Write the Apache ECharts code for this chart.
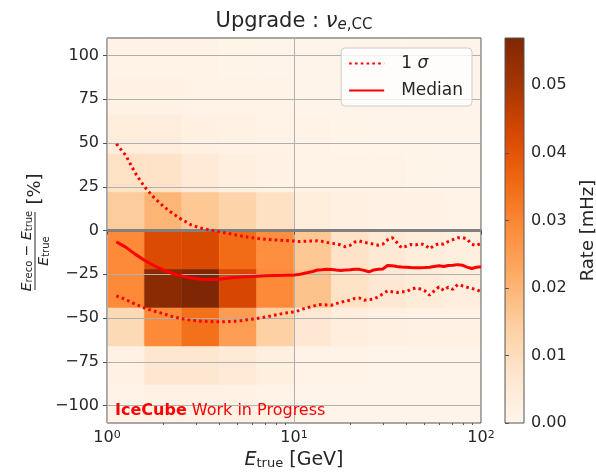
<!DOCTYPE html>
<html>
<head>
<meta charset="utf-8">
<script src="https://cdn.jsdelivr.net/npm/echarts@6/dist/echarts.min.js"></script>
<style>
  html, body { margin: 0; padding: 0; background: #ffffff; }
  #chart { width: 596px; height: 473px; }
</style>
</head>
<body>
<div id="chart"></div>
<script>
// histogram bin edges
const energyEdges = [1, 1.585, 2.512, 3.981, 6.310, 10, 15.85, 25.12, 39.81, 63.10, 100]
const resolutionEdges = [-110, -88, -66, -44, -22, 0, 22, 44, 66, 88, 110]

// rate [mHz] per cell, one row per resolution bin, bottom row first
const rates = [
  [0.0008, 0.0018, 0.0020, 0.0015, 0.0010, 0.0006, 0.0005, 0.0004, 0.0003, 0.0003],
  [0.0020, 0.0065, 0.0065, 0.0050, 0.0030, 0.0012, 0.0008, 0.0006, 0.0005, 0.0004],
  [0.0110, 0.0290, 0.0340, 0.0250, 0.0140, 0.0060, 0.0035, 0.0025, 0.0020, 0.0015],
  [0.0290, 0.0550, 0.0570, 0.0430, 0.0290, 0.0170, 0.0085, 0.0060, 0.0045, 0.0035],
  [0.0290, 0.0420, 0.0425, 0.0350, 0.0280, 0.0160, 0.0080, 0.0055, 0.0040, 0.0030],
  [0.0150, 0.0200, 0.0160, 0.0130, 0.0090, 0.0040, 0.0025, 0.0020, 0.0015, 0.0012],
  [0.0085, 0.0080, 0.0050, 0.0030, 0.0020, 0.0012, 0.0010, 0.0008, 0.0007, 0.0006],
  [0.0040, 0.0038, 0.0025, 0.0018, 0.0012, 0.0008, 0.0007, 0.0006, 0.0005, 0.0005],
  [0.0020, 0.0018, 0.0012, 0.0010, 0.0008, 0.0006, 0.0005, 0.0005, 0.0004, 0.0004],
  [0.0012, 0.0010, 0.0008, 0.0007, 0.0006, 0.0005, 0.0005, 0.0004, 0.0004, 0.0004]
]
const rateMax = 0.057

// resolution curves
const lineEnergies = [1.122, 1.259, 1.413, 1.585, 1.778, 1.995, 2.239, 2.512, 2.818, 3.162,
  3.548, 3.981, 4.467, 5.012, 5.623, 6.310, 7.079, 7.943, 8.913,
  10.0, 10.59, 11.22, 11.89, 12.59, 13.34, 14.13, 14.96, 15.85, 16.79, 17.78, 18.84, 19.95,
  21.13, 22.39, 23.71, 25.12, 26.61, 28.18, 29.85, 31.62, 33.50, 35.48, 37.58, 39.81,
  42.17, 44.67, 47.32, 50.12, 53.09, 56.23, 59.57, 63.10, 66.83, 70.79, 74.99, 79.43,
  84.14, 89.13, 94.41, 100.0]
const sigmaUpper = [49.5, 43, 33, 25, 19, 14, 9.8, 6.3, 3.2, 1.4, 0.3, -0.7, -1.7, -2.8, -3.7, -4.5, -5.0, -5.4, -5.7,
  -6.0, -6.3, -6.2, -6.0, -6.0, -5.9, -6.2, -6.8, -7.3, -7.6, -8.3, -9.3, -8.5, -6.6, -6.0, -6.8,
  -7.2, -7.8, -8.4, -7.8, -5.4, -4.1, -6.8, -9.9, -9.0, -8.0, -8.3, -7.5, -8.2, -10.4, -8.6, -7.4,
  -7.8, -6.3, -5.2, -4.2, -4.0, -4.8, -7.9, -8.6, -7.3]
const median = [-6.5, -9.5, -13.5, -17, -20, -22.5, -24.6, -26, -27.1, -27.8, -28, -27.8, -27.2, -26.7, -26.4, -26.1, -25.9, -25.7, -25.6,
  -25.4, -25.2, -24.6, -24.0, -23.4, -22.6, -22.4, -22.1, -22.3, -22.6, -22.8, -22.6, -22.4, -22.1, -22.2, -22.8,
  -23.6, -22.6, -22.2, -22.0, -20.0, -20.2, -20.6, -20.8, -21.0, -21.2, -21.3, -21.3, -21.2, -21.0, -20.6, -20.2,
  -20.6, -20.0, -19.9, -19.5, -19.8, -20.9, -21.7, -21.0, -20.7]
const sigmaLower = [-37.3, -39.5, -42.0, -44.3, -46.0, -47.5, -49.2, -50.4, -51.3, -51.8, -52.0, -52.2, -52.0, -51.8, -51.0, -50.3, -49.4, -48.3, -47.2,
  -46.5, -45.8, -44.8, -44.0, -43.3, -42.5, -42.3, -42.6, -42.7, -41.8, -41.0, -40.3, -39.8, -38.8, -38.6, -39.8,
  -39.5, -39.2, -37.9, -36.2, -34.5, -35.0, -35.4, -35.0, -35.0, -33.6, -32.8, -33.4, -34.5, -37.0, -34.5, -32.2,
  -34.2, -32.4, -33.6, -30.9, -31.6, -32.4, -33.1, -33.8, -35.0]

const yTicks = [-100, -75, -50, -25, 0, 25, 50, 75, 100]
const rateTicks = [0, 0.01, 0.02, 0.03, 0.04, 0.05]
const minorEnergyTicks = [2, 3, 4, 5, 6, 7, 8, 9, 20, 30, 40, 50, 60, 70, 80, 90]

// matplotlib "Oranges"
const ORANGES = ['#fff5eb', '#fee6ce', '#fdd0a2', '#fdae6b', '#fd8d3c', '#f16913', '#d94801', '#a63603', '#7f2704']

const FONT = '"DejaVu Sans", sans-serif'
const TEXT = '#262626'
const FRAME = '#555555'
const RED = '#ff0000'

const cells = []
rates.forEach((row, i) => {
  row.forEach((v, j) => {
    cells.push([energyEdges[j], energyEdges[j + 1], resolutionEdges[i], resolutionEdges[i + 1], v])
  })
})

const pairs = vals => lineEnergies.map((e, i) => [e, vals[i]])

function renderCell(params, api) {
  const p0 = api.coord([api.value(0), api.value(3)])
  const p1 = api.coord([api.value(1), api.value(2)])
  const color = api.visual('color')
  return {
    type: 'rect',
    shape: { x: p0[0], y: p0[1], width: p1[0] - p0[0], height: p1[1] - p0[1] },
    style: { fill: color, stroke: color, lineWidth: 0.5 }
  }
}

function renderColorbar(params, api) {
  const p0 = api.coord([api.value(0), api.value(3)])
  const p1 = api.coord([api.value(1), api.value(2)])
  return {
    type: 'rect',
    shape: { x: p0[0], y: p0[1], width: p1[0] - p0[0], height: p1[1] - p0[1] },
    style: {
      fill: new echarts.graphic.LinearGradient(0, 1, 0, 0,
        ORANGES.map((c, i) => ({ offset: i / (ORANGES.length - 1), color: c })))
    }
  }
}

const tickLabel = { fontSize: 16, color: TEXT, fontFamily: FONT }
const NOSYMBOL = 'rgba(0,0,0,0)'

const chart = echarts.init(document.getElementById('chart'), null, { renderer: 'canvas' })

chart.setOption({
  animation: false,
  backgroundColor: '#ffffff',
  textStyle: { fontFamily: FONT },
  grid: [
    { left: 107, top: 38, width: 374, height: 385, show: true, borderColor: FRAME, borderWidth: 1,
      backgroundColor: 'transparent', outerBoundsMode: 'none', containLabel: false },
    { left: 505, top: 38, width: 19, height: 385, show: true, borderColor: FRAME, borderWidth: 1,
      backgroundColor: 'transparent', outerBoundsMode: 'none', containLabel: false }
  ],
  visualMap: {
    show: false,
    type: 'continuous',
    seriesIndex: 0,
    dimension: 4,
    min: 0,
    max: rateMax,
    inRange: { color: ORANGES }
  },
  legend: {
    orient: 'vertical',
    right: 124,
    top: 48,
    data: ['1 σ', 'Median'],
    itemWidth: 35,
    itemHeight: 14,
    itemGap: 10,
    padding: [7, 9, 7, 7],
    backgroundColor: 'rgba(255,255,255,0.8)',
    borderColor: '#cccccc',
    borderWidth: 1,
    borderRadius: 4,
    formatter: name => name === '1 σ' ? '1 {s|σ}' : name,
    textStyle: {
      fontSize: 17, color: TEXT, fontFamily: FONT, padding: [0, 0, 0, 12],
      rich: { s: { fontSize: 17, fontStyle: 'italic', fontFamily: FONT, color: TEXT } }
    }
  },
  xAxis: [
    {
      gridIndex: 0,
      type: 'log',
      logBase: 10,
      min: 1,
      max: 100,
      axisLine: { show: false },
      axisTick: { show: true, length: 4, lineStyle: { color: FRAME } },
      axisLabel: {
        ...tickLabel, margin: 7,
        formatter: v => '10{sup|' + Math.round(Math.log10(v)) + '}',
        rich: { sup: { fontSize: 11, verticalAlign: 'top', lineHeight: 11, color: TEXT, fontFamily: FONT } }
      },
      splitLine: { show: true, lineStyle: { color: '#b0b0b0', width: 1 } },
      name: '{i|E}{s|true} [GeV]',
      nameLocation: 'middle',
      nameGap: 27,
      nameTextStyle: {
        fontSize: 19, color: TEXT, fontFamily: FONT,
        rich: {
          i: { fontSize: 19, fontStyle: 'italic', color: TEXT, fontFamily: FONT },
          s: { fontSize: 13, verticalAlign: 'bottom', lineHeight: 13, color: TEXT, fontFamily: FONT }
        }
      }
    },
    {
      gridIndex: 0,
      type: 'value',
      min: 0,
      max: 2,
      position: 'bottom',
      axisLine: { show: false },
      axisLabel: { show: false },
      splitLine: { show: false },
      axisTick: { show: true, length: 2, lineStyle: { color: FRAME }, customValues: minorEnergyTicks.map(Math.log10) }
    },
    {
      gridIndex: 1,
      type: 'value',
      min: 0,
      max: 1,
      show: false
    }
  ],
  yAxis: [
    {
      gridIndex: 0,
      type: 'value',
      min: -110,
      max: 110,
      axisLine: { show: false },
      axisTick: { show: true, length: 4, lineStyle: { color: FRAME }, customValues: yTicks },
      axisLabel: {
        ...tickLabel, margin: 8, customValues: yTicks,
        formatter: v => v < 0 ? '\u2212' + (-v) : String(v)
      },
      splitLine: { show: true, lineStyle: { color: '#b0b0b0', width: 1 } }
    },
    {
      gridIndex: 1,
      type: 'value',
      position: 'right',
      min: 0,
      max: rateMax,
      axisLine: { show: false },
      axisTick: { show: true, length: 4, lineStyle: { color: FRAME }, customValues: rateTicks },
      axisLabel: { ...tickLabel, margin: 7, customValues: rateTicks, formatter: v => v.toFixed(2) },
      splitLine: { show: false },
      name: 'Rate [mHz]',
      nameLocation: 'middle',
      nameRotate: 90,
      nameGap: 55,
      nameTextStyle: { fontSize: 18, color: TEXT, fontFamily: FONT }
    }
  ],
  series: [
    {
      name: 'rate',
      type: 'custom',
      xAxisIndex: 0,
      yAxisIndex: 0,
      z: -1,
      silent: true,
      renderItem: renderCell,
      encode: { x: [0, 1], y: [2, 3] },
      data: cells,
      markLine: {
        z: 1,
        silent: true,
        symbol: 'none',
        label: { show: false },
        lineStyle: { color: '#808080', width: 3, type: 'solid' },
        data: [{ yAxis: 0 }]
      }
    },
    {
      name: 'colorbar',
      type: 'custom',
      xAxisIndex: 2,
      yAxisIndex: 1,
      z: -1,
      silent: true,
      renderItem: renderColorbar,
      encode: { x: [0, 1], y: [2, 3] },
      data: [[0, 1, 0, rateMax]]
    },
    {
      name: '1 σ',
      type: 'line',
      xAxisIndex: 0,
      yAxisIndex: 0,
      z: 3,
      symbol: 'none',
      lineStyle: { color: RED, width: 3, type: [2.6, 3.2] },
      itemStyle: { color: NOSYMBOL },
      data: pairs(sigmaUpper)
    },
    {
      name: '1 σ',
      type: 'line',
      xAxisIndex: 0,
      yAxisIndex: 0,
      z: 3,
      symbol: 'none',
      lineStyle: { color: RED, width: 3, type: [2.6, 3.2] },
      itemStyle: { color: NOSYMBOL },
      data: pairs(sigmaLower)
    },
    {
      name: 'Median',
      type: 'line',
      xAxisIndex: 0,
      yAxisIndex: 0,
      z: 3,
      symbol: 'none',
      lineStyle: { color: RED, width: 3 },
      itemStyle: { color: NOSYMBOL },
      data: pairs(median)
    }
  ],
  graphic: [
    {
      type: 'text',
      x: 294,
      y: 22,
      style: {
        text: 'Upgrade : {nu|ν}{s|e}{r|,CC}',
        align: 'center',
        verticalAlign: 'middle',
        fontSize: 21,
        fontFamily: FONT,
        fill: TEXT,
        rich: {
          nu: { fontSize: 21, fontStyle: 'italic', fontFamily: FONT, fill: TEXT },
          s: { fontSize: 15, fontStyle: 'italic', verticalAlign: 'bottom', lineHeight: 14, fontFamily: FONT, fill: TEXT },
          r: { fontSize: 15, verticalAlign: 'bottom', lineHeight: 14, fontFamily: FONT, fill: TEXT }
        }
      }
    },
    {
      type: 'text',
      x: 115,
      y: 411,
      z: 10,
      style: {
        text: '{b|IceCube} Work in Progress',
        verticalAlign: 'middle',
        fontSize: 16,
        fontFamily: FONT,
        fill: RED,
        rich: { b: { fontSize: 16, fontWeight: 'bold', fontFamily: FONT, fill: RED } }
      }
    },
    {
      type: 'group',
      x: 35,
      y: 231,
      rotation: Math.PI / 2,
      children: [
        {
          type: 'text',
          x: -20,
          y: -1,
          style: {
            text: '{i|E}{s|reco} \u2212 {i|E}{s|true}',
            align: 'center',
            verticalAlign: 'bottom',
            fontSize: 14,
            fontFamily: FONT,
            fill: TEXT,
            rich: {
              i: { fontSize: 14, fontStyle: 'italic', fontFamily: FONT, fill: TEXT },
              s: { fontSize: 10, verticalAlign: 'bottom', lineHeight: 10, fontFamily: FONT, fill: TEXT }
            }
          }
        },
        {
          type: 'line',
          shape: { x1: -59, y1: 0, x2: 19, y2: 0 },
          style: { stroke: TEXT, lineWidth: 1 }
        },
        {
          type: 'text',
          x: -20,
          y: 2,
          style: {
            text: '{i|E}{s|true}',
            align: 'center',
            verticalAlign: 'top',
            fontSize: 14,
            fontFamily: FONT,
            fill: TEXT,
            rich: {
              i: { fontSize: 14, fontStyle: 'italic', fontFamily: FONT, fill: TEXT },
              s: { fontSize: 10, verticalAlign: 'bottom', lineHeight: 10, fontFamily: FONT, fill: TEXT }
            }
          }
        },
        {
          type: 'text',
          x: 42,
          y: 0,
          style: {
            text: '[%]',
            align: 'center',
            verticalAlign: 'middle',
            fontSize: 18,
            fontFamily: FONT,
            fill: TEXT
          }
        }
      ]
    }
  ]
})
</script>
</body>
</html>
